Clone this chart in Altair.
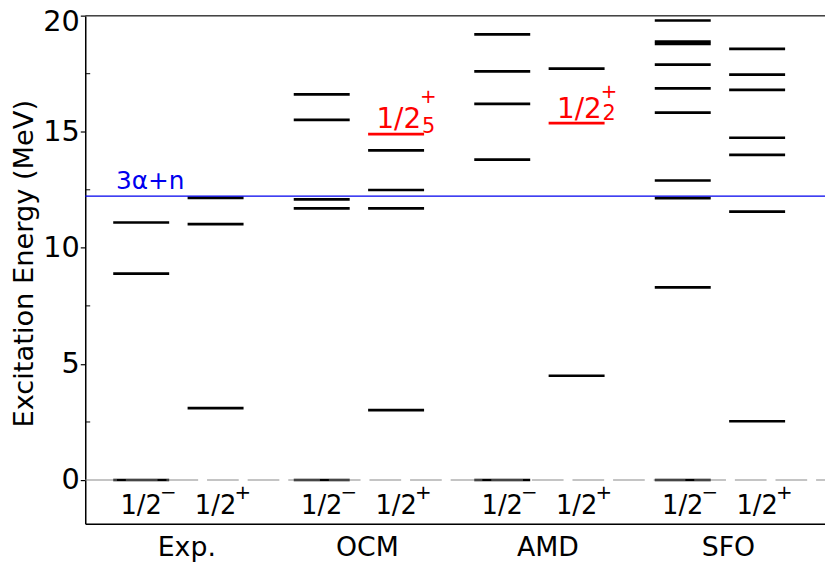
import altair as alt
import pandas as pd

# ---------------- data ----------------
METHODS = ["Exp.", "OCM", "AMD", "SFO"]
PARITY_SIGNS = ["−", "+"]          # 1/2-  and 1/2+

EXP_MINUS = [0.0, 8.89, 11.09]
EXP_PLUS = [3.10, 11.02, 12.15]
OCM_MINUS = [0.0, 11.70, 12.09, 15.51, 16.61]
OCM_PLUS = [3.01, 11.70, 12.49, 14.20, 14.90]
AMD_MINUS = [0.0, 13.80, 16.20, 17.60, 19.19]
AMD_PLUS = [4.49, 15.37, 17.72]
SFO_MINUS = [0.0, 8.30, 12.14, 12.90, 15.82, 16.87, 17.89, 18.78, 18.88, 19.79]
SFO_PLUS = [2.53, 11.56, 14.00, 14.74, 16.80, 17.46, 18.57]

# highlighted (red) levels: (method, parity index, energy, subscript)
HIGHLIGHT = [("OCM", 1, 14.90, "5"), ("AMD", 1, 15.37, "2")]

THRESHOLD = 12.23
THRESHOLD_LABEL = "3α+n"
Y_TICKS = [0, 5, 10, 15, 20]
Y_MINOR = [2.5, 7.5, 12.5, 17.5]
Y_TITLE = "Excitation Energy (MeV)"

LEVELS = [
    [EXP_MINUS, EXP_PLUS],
    [OCM_MINUS, OCM_PLUS],
    [AMD_MINUS, AMD_PLUS],
    [SFO_MINUS, SFO_PLUS],
]

# ---------------- layout ----------------
W, H = 747, 513
OFF = 0.206     # column offset from group centre
HALF = 0.155    # half length of a level line
xscale = alt.Scale(domain=[0.484, 4.582], nice=False, zero=False)
yscale = alt.Scale(domain=[-1.88, 20], nice=False, zero=False)
FONT = "DejaVu Sans"

hl_set = {(m, p, e) for m, p, e, _ in HIGHLIGHT}
rows, cols = [], []
for i, (m, pair) in enumerate(zip(METHODS, LEVELS)):
    for p, energies in enumerate(pair):
        xc = (i + 1) + (OFF if p == 1 else -OFF)
        cols.append({"xc": xc, "sign": PARITY_SIGNS[p]})
        for e in energies:
            rows.append({
                "x1": xc - HALF, "x2": xc + HALF, "e": e,
                "color": "#ff0000" if (m, p, e) in hl_set else "#000000",
            })
levels = pd.DataFrame(rows)
cols_df = pd.DataFrame(cols)

label_expr = "[" + ",".join("'%s'" % m for m in METHODS) + "][datum.value - 1]"

x_axis = alt.Axis(values=[1, 2, 3, 4], labelExpr=label_expr, ticks=False,
                  domainColor="black", domainWidth=1.5, labelFontSize=27,
                  labelFont=FONT, labelColor="black", labelPadding=11,
                  labelOffset=8, title=None, grid=False)
y_axis = alt.Axis(values=Y_TICKS, tickSize=5, tickColor="black", tickWidth=1.2,
                  domainColor="black", domainWidth=1.5, labelFontSize=29,
                  labelFont=FONT, labelColor="black", labelPadding=1,
                  labelOffset={"expr": "datum.value == %d ? 6 : 0" % max(Y_TICKS)},
                  title=Y_TITLE, titleFontSize=27.5, titleFont=FONT,
                  titleFontWeight="normal", titleColor="black", titleX=-47,
                  titleY=250, grid=False)

base_lv = alt.Chart(levels)

lines = base_lv.mark_rule(strokeWidth=2.7).encode(
    x=alt.X("x1:Q", scale=xscale, axis=x_axis),
    x2="x2:Q",
    y=alt.Y("e:Q", scale=yscale, axis=y_axis),
    color=alt.Color("color:N", scale=None),
)

zero_line = alt.Chart(pd.DataFrame({"e": [0.0]})).mark_rule(
    color="#8a8a8a", strokeWidth=1.2, strokeDash=[32, 9]
).encode(x=alt.value(0), x2=alt.value(W), y=alt.Y("e:Q", scale=yscale))

thr = alt.Chart(pd.DataFrame({"e": [THRESHOLD], "t": [THRESHOLD_LABEL]}))
thr_line = thr.mark_rule(color="#0000ee", strokeWidth=1.2).encode(
    x=alt.value(0), x2=alt.value(W), y=alt.Y("e:Q", scale=yscale))
thr_text = thr.mark_text(color="#0000ee", fontSize=25, font=FONT, align="left",
                         baseline="alphabetic", dx=0, dy=-7).encode(
    x=alt.value(31), y=alt.Y("e:Q", scale=yscale), text="t:N")

top_border = alt.Chart(pd.DataFrame({"e": [20.0]})).mark_rule(
    color="#444444", strokeWidth=1.5
).encode(x=alt.value(0), x2=alt.value(W), y=alt.Y("e:Q", scale=yscale))

minor = alt.Chart(pd.DataFrame({"e": Y_MINOR})).mark_rule(
    color="black", strokeWidth=1
).encode(x=alt.value(0), x2=alt.value(5), y=alt.Y("e:Q", scale=yscale))

cols_df["e"] = 0.0
cols_df["j"] = "1/2"
cbase = alt.Chart(cols_df)
j_text = cbase.mark_text(fontSize=26, font=FONT, color="black", align="center",
                         baseline="alphabetic", dy=34).encode(
    x=alt.X("xc:Q", scale=xscale), y=alt.Y("e:Q", scale=yscale), text="j:N")
j_sup = cbase.mark_text(fontSize=20, font=FONT, color="black", align="left",
                        baseline="alphabetic", dx=19, dy=19).encode(
    x=alt.X("xc:Q", scale=xscale), y=alt.Y("e:Q", scale=yscale), text="sign:N")

red_layers = []
red_dy = {"OCM": (-6, -31, -1), "AMD": (-5, -25, -3)}
for m, p, e, sub in HIGHLIGHT:
    i = METHODS.index(m)
    xr = (i + 1) + (OFF if p == 1 else -OFF) + HALF
    d = pd.DataFrame({"x": [xr], "e": [e], "j": ["1/2"],
                      "sup": [PARITY_SIGNS[p]], "sub": [sub]})
    dj, ds, db = red_dy[m]
    rb = alt.Chart(d)
    red_layers.append(rb.mark_text(fontSize=28, font=FONT, color="red", align="right",
                                   baseline="alphabetic", dx=-3, dy=dj).encode(
        x=alt.X("x:Q", scale=xscale), y=alt.Y("e:Q", scale=yscale), text="j:N"))
    red_layers.append(rb.mark_text(fontSize=20, font=FONT, color="red", align="left",
                                   baseline="alphabetic", dx=-4, dy=ds).encode(
        x=alt.X("x:Q", scale=xscale), y=alt.Y("e:Q", scale=yscale), text="sup:N"))
    red_layers.append(rb.mark_text(fontSize=21, font=FONT, color="red", align="left",
                                   baseline="alphabetic", dx=-2, dy=db).encode(
        x=alt.X("x:Q", scale=xscale), y=alt.Y("e:Q", scale=yscale), text="sub:N"))

chart = alt.layer(
    lines, zero_line, thr_line, thr_text, top_border, minor, j_text, j_sup,
    *red_layers
).properties(
    width=W, height=H,
    autosize=alt.AutoSizeParams(type="none"),
    padding={"left": 78, "top": 5, "right": 0, "bottom": 38},
).configure_view(stroke=None).configure(background="white")

chart.save("out.html", embed_options={"renderer": "svg", "actions": False})
